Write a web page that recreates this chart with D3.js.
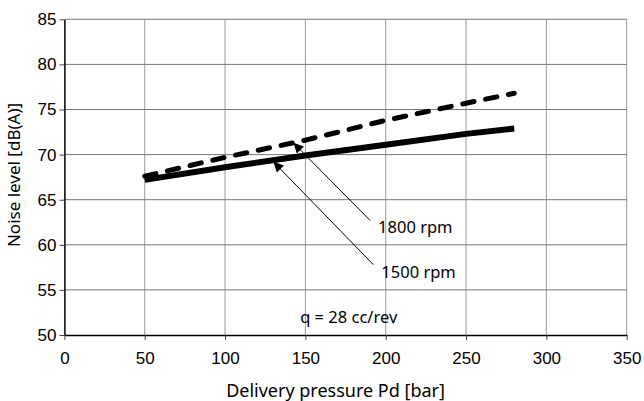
<!DOCTYPE html>
<html>
<head>
<meta charset="utf-8">
<script src="https://cdn.jsdelivr.net/npm/d3@7"></script>
<style>
  body { margin: 0; background: #fff; }
  svg { display: block; }
</style>
</head>
<body>
<div id="chart-area"></div>
<script>
// data
const pressure = [50, 100, 150, 200, 250, 280]
const noise1500 = [67.2, 68.6, 69.9, 71.1, 72.3, 72.9]
const noise1800 = [67.6, 69.7, 71.6, 73.8, 75.7, 76.8]
const xTicks = [0, 50, 100, 150, 200, 250, 300, 350]
const yTicks = [50, 55, 60, 65, 70, 75, 80, 85]

// callouts: label, arrow tip [x, y], arrow tail [x, y] in data units
const callouts = [
  { label: '1800 rpm', tip: [142.5, 71.3], tail: [190.3, 62.7] },
  { label: '1500 rpm', tip: [130.1, 69.2], tail: [192.3, 57.8] }
]
const note = 'q = 28 cc/rev'

const MARGIN = { LEFT: 64.4, RIGHT: 17.3, TOP: 19.3, BOTTOM: 66 }
const W = 644, H = 401
const WIDTH = W - MARGIN.LEFT - MARGIN.RIGHT
const HEIGHT = H - MARGIN.TOP - MARGIN.BOTTOM

const svg = d3.select('#chart-area').append('svg')
  .attr('width', W)
  .attr('height', H)

const g = svg.append('g')
  .attr('transform', `translate(${MARGIN.LEFT}, ${MARGIN.TOP})`)

const x = d3.scaleLinear().domain([0, 350]).range([0, WIDTH])
const y = d3.scaleLinear().domain([50, 85]).range([HEIGHT, 0])

// grid
g.append('g').selectAll('line')
  .data(xTicks.slice(1))
  .enter().append('line')
    .attr('x1', d => x(d)).attr('x2', d => x(d))
    .attr('y1', 0).attr('y2', HEIGHT)
    .attr('stroke', '#999')
    .attr('stroke-width', 1)

g.append('g').selectAll('line')
  .data(yTicks.slice(1))
  .enter().append('line')
    .attr('x1', 0).attr('x2', WIDTH)
    .attr('y1', d => y(d)).attr('y2', d => y(d))
    .attr('stroke', '#777')
    .attr('stroke-width', 1)

// axes
const xAxis = g.append('g')
  .attr('transform', `translate(0, ${HEIGHT})`)
  .call(d3.axisBottom(x).tickValues(xTicks).tickSize(5).tickSizeOuter(0))
const yAxis = g.append('g')
  .call(d3.axisLeft(y).tickValues(yTicks).tickSize(5).tickSizeOuter(0))

;[xAxis, yAxis].forEach(a => {
  a.attr('font-family', '"Liberation Sans", Arial, sans-serif').attr('font-size', 17)
  a.select('.domain').attr('stroke', '#000').attr('stroke-width', 1.5)
  a.selectAll('.tick line').attr('stroke', '#444')
  a.selectAll('.tick text').attr('fill', '#000')
})
xAxis.selectAll('.tick text').attr('dy', '1.25em')
yAxis.selectAll('.tick text').attr('x', -8)

// lines
const line = d3.line()
  .x((d, i) => x(pressure[i]))
  .y(d => y(d))

g.append('path')
  .datum(noise1500)
  .attr('d', line)
  .attr('fill', 'none')
  .attr('stroke', '#000')
  .attr('stroke-width', 6)

g.append('path')
  .datum(noise1800)
  .attr('d', line)
  .attr('fill', 'none')
  .attr('stroke', '#000')
  .attr('stroke-width', 5)
  .attr('stroke-linecap', 'round')
  .attr('stroke-dasharray', '11.5,11.8')

// arrows
svg.append('defs').append('marker')
  .attr('id', 'head')
  .attr('viewBox', '0 0 10 10')
  .attr('refX', 10).attr('refY', 5)
  .attr('markerWidth', 13).attr('markerHeight', 10)
  .attr('markerUnits', 'userSpaceOnUse')
  .attr('orient', 'auto')
  .append('path')
    .attr('d', 'M0,0 L10,5 L0,10 Z')
    .attr('fill', '#000')

const FONT_TXT = '"Noto Sans", "DejaVu Sans", sans-serif'

callouts.forEach(c => {
  g.append('line')
    .attr('x1', x(c.tail[0])).attr('y1', y(c.tail[1]))
    .attr('x2', x(c.tip[0])).attr('y2', y(c.tip[1]))
    .attr('stroke', '#000')
    .attr('stroke-width', 1)
    .attr('marker-end', 'url(#head)')
  g.append('text')
    .attr('x', x(c.tail[0]) + 8)
    .attr('y', y(c.tail[1]) + 13)
    .attr('font-family', FONT_TXT)
    .attr('font-size', '16.5px')
    .text(c.label)
})

// note
g.append('text')
  .attr('x', x(177))
  .attr('y', y(51.3))
  .attr('text-anchor', 'middle')
  .attr('font-family', FONT_TXT)
  .attr('font-size', '16.5px')
  .text(note)

// axis labels
svg.append('text')
  .attr('x', MARGIN.LEFT + WIDTH / 2 - 10)
  .attr('y', 397)
  .attr('text-anchor', 'middle')
  .attr('font-family', FONT_TXT)
  .attr('font-size', '18px')
  .text('Delivery pressure Pd [bar]')

svg.append('text')
  .attr('transform', `translate(20, 175) rotate(-90)`)
  .attr('text-anchor', 'middle')
  .attr('font-family', FONT_TXT)
  .attr('font-size', '17px')
  .text('Noise level [dB(A)]')
</script>
</body>
</html>
